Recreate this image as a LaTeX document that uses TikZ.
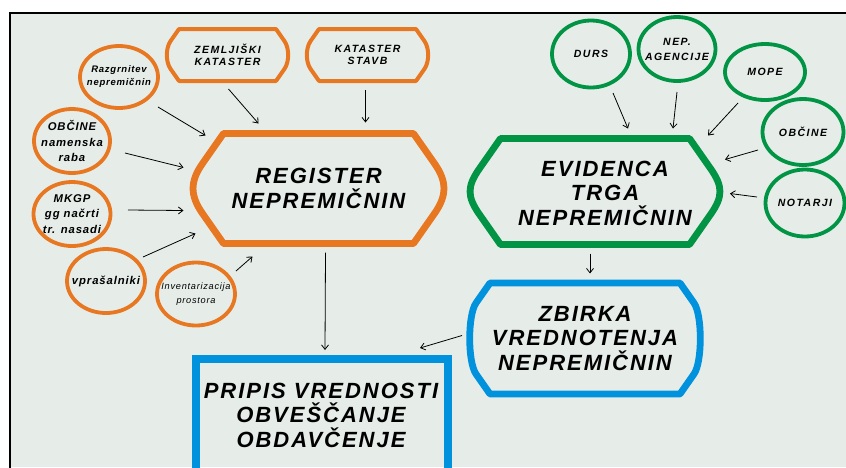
\documentclass[tikz,border=0pt]{standalone}
\usepackage{fontspec}
\setmainfont{Liberation Sans}
\newfontfamily\bigf[LetterSpace=9]{Liberation Sans}
\newfontfamily\capf[LetterSpace=14]{Liberation Sans}
\newfontfamily\lcf[LetterSpace=8]{Liberation Sans}
\usetikzlibrary{arrows.meta,calc,shapes.geometric}
\definecolor{bgc}{RGB}{230,237,233}
\definecolor{org}{RGB}{232,119,34}
\definecolor{grn}{RGB}{0,148,68}
\definecolor{blu}{RGB}{0,146,221}
\tikzset{
  box/.style={rectangle,draw=none,inner sep=0pt,outer sep=0pt,align=center},
  ell/.style={ellipse,line width=3.8pt,inner sep=-10pt,outer sep=0pt,align=center},
  capt/.style={font=\capf\bfseries\itshape\fontsize{10.5}{12}\selectfont},
  lct/.style={font=\lcf\bfseries\itshape\fontsize{11.3}{15.5}\selectfont},
  frm/.style={line width=6.8pt,line join=round},
  bigtxt/.style={inner sep=0pt,align=center,font=\bigf\bfseries\itshape\fontsize{22}{24.5}\selectfont},
  arr/.style={-{Straight Barb[length=4.5pt,width=7pt]},line width=0.8pt,black},
}
\newcommand\hexframe[3]{%
  \draw[#2] ($(#1.north west)+(#3,0)$) -- ($(#1.north east)+(-#3,0)$)
   -- ($(#1.north east)+(-0.3*#3,#3)$)
   .. controls ($(#1.north east)+(0.12*#3,1.6*#3)$) and ($(#1.south east)+(0.12*#3,-1.6*#3)$) ..
   ($(#1.south east)+(-0.3*#3,-#3)$) -- ($(#1.south east)+(-#3,0)$)
   -- ($(#1.south west)+(#3,0)$) -- ($(#1.south west)+(0.3*#3,-#3)$)
   .. controls ($(#1.south west)+(-0.12*#3,-1.6*#3)$) and ($(#1.north west)+(-0.12*#3,1.6*#3)$) ..
   ($(#1.north west)+(0.3*#3,#3)$) -- cycle;}
\begin{document}
\begin{tikzpicture}[x=1pt,y=-1pt]
\useasboundingbox (0,0) rectangle (846,467);
\clip (0,0) rectangle (846,467);
\fill[white] (0,0) rectangle (846,467);
\fill[bgc] (10,13) rectangle (846,467);
\draw[black,line width=2.4pt] (10,480) -- (10,13) -- (850,13);

% orange side
\node[box,minimum width=121pt,minimum height=52pt,capt] (zem) at (227.5,55) {ZEMLJIŠKI\\KATASTER};
\hexframe{zem}{frm,org,line width=4pt}{12}
\node[box,minimum width=121pt,minimum height=52pt,capt] (kst) at (367.5,55) {KATASTER\\STAVB};
\hexframe{kst}{frm,org,line width=4pt}{12}
\node[ell,draw=org,minimum width=78pt,minimum height=62pt,font=\lcf\bfseries\itshape\fontsize{9.5}{13}\selectfont] (razg) at (119,77) {Razgrnitev\\nepremičnin};
\node[ell,draw=org,minimum width=76pt,minimum height=64pt,lct] (obc) at (72,141) {OBČINE\\namenska\\raba};
\node[ell,draw=org,minimum width=77pt,minimum height=64pt,lct] (mkgp) at (72,214) {MKGP\\gg načrti\\tr. nasadi};
\node[ell,draw=org,minimum width=78pt,minimum height=64pt,lct] (vpr) at (106,281) {vprašalniki};
\node[ell,draw=org,minimum width=78pt,minimum height=63pt,font=\lcf\itshape\fontsize{9.2}{13.5}\selectfont] (inv) at (196,294) {Inventarizacija\\prostora};
\node[box,minimum width=250pt,minimum height=110pt,bigtxt] (reg) at (318.5,188.5) {REGISTER\\NEPREMIČNIN};
\hexframe{reg}{frm,org}{30}

% green side
\node[ell,draw=grn,minimum width=78pt,minimum height=67pt,capt] (durs) at (591,54) {DURS};
\node[ell,draw=grn,minimum width=77pt,minimum height=64pt,capt,font=\capf\bfseries\itshape\fontsize{10.5}{15}\selectfont] (nep) at (677,49) {NEP.\\AGENCIJE};
\node[ell,draw=grn,minimum width=80pt,minimum height=56pt,capt] (mope) at (765,72) {MOPE};
\node[ell,draw=grn,minimum width=81pt,minimum height=66pt,capt] (obcr) at (803,132) {OBČINE};
\node[ell,draw=grn,minimum width=79pt,minimum height=67pt,capt] (notr) at (805,203) {NOTARJI};
\node[box,minimum width=249pt,minimum height=106pt] (evi) at (595,191.5) {};
\hexframe{evi}{frm,grn}{30}
\node[bigtxt] (evit) at (605,193) {EVIDENCA\\TRGA\\NEPREMIČNIN};

% blue
\node[box,minimum width=230pt,minimum height=111pt,bigtxt] (zbi) at (585,338.5) {ZBIRKA\\VREDNOTENJA\\NEPREMIČNIN};
\hexframe{zbi}{frm,blu}{20}
\node[box,draw=blu,line width=8pt,minimum width=252pt,minimum height=132pt] (prip) at (322,425) {};
\node[bigtxt] (pript) at (321,415) {PRIPIS VREDNOSTI\\OBVEŠČANJE\\OBDAVČENJE};

% arrows
\draw[arr] ($(razg)+(39,30)$) -- ($(reg)+(-113,-53)$);
\draw[arr] ($(zem)+(1,34)$) -- ($(reg)+(-60,-65)$);
\draw[arr] ($(kst)+(-2,35)$) -- ($(reg)+(47,-66)$);
\draw[arr] ($(obc)+(53,12)$) -- ($(reg)+(-135,-21)$);
\draw[arr] ($(mkgp)+(56,-4)$) -- ($(reg)+(-135,22)$);
\draw[arr] ($(vpr)+(37,-24)$) -- ($(reg)+(-123,45)$);
\draw[arr] ($(inv)+(40,-23)$) -- ($(reg)+(-66,68)$);
\draw[arr] ($(reg)+(7,64)$) -- ($(prip)+(3,-75)$);
\draw[arr] ($(durs)+(22,39)$) -- ($(evi)+(33,-63)$);
\draw[arr] ($(nep)+(0,43)$) -- ($(evi)+(78,-63)$);
\draw[arr] ($(mope)+(-27,31)$) -- ($(evi)+(113,-56)$);
\draw[arr] ($(obcr)+(-45,18)$) -- ($(evi)+(130,-32)$);
\draw[arr] ($(notr)+(-48,-6)$) -- ($(evi)+(135,2)$);
\draw[arr] ($(evi)+(-5,62)$) -- ($(zbi)+(5,-65)$);
\draw[arr] ($(zbi)+(-123,-3)$) -- ($(prip)+(98,-77)$);
\end{tikzpicture}
\end{document}
